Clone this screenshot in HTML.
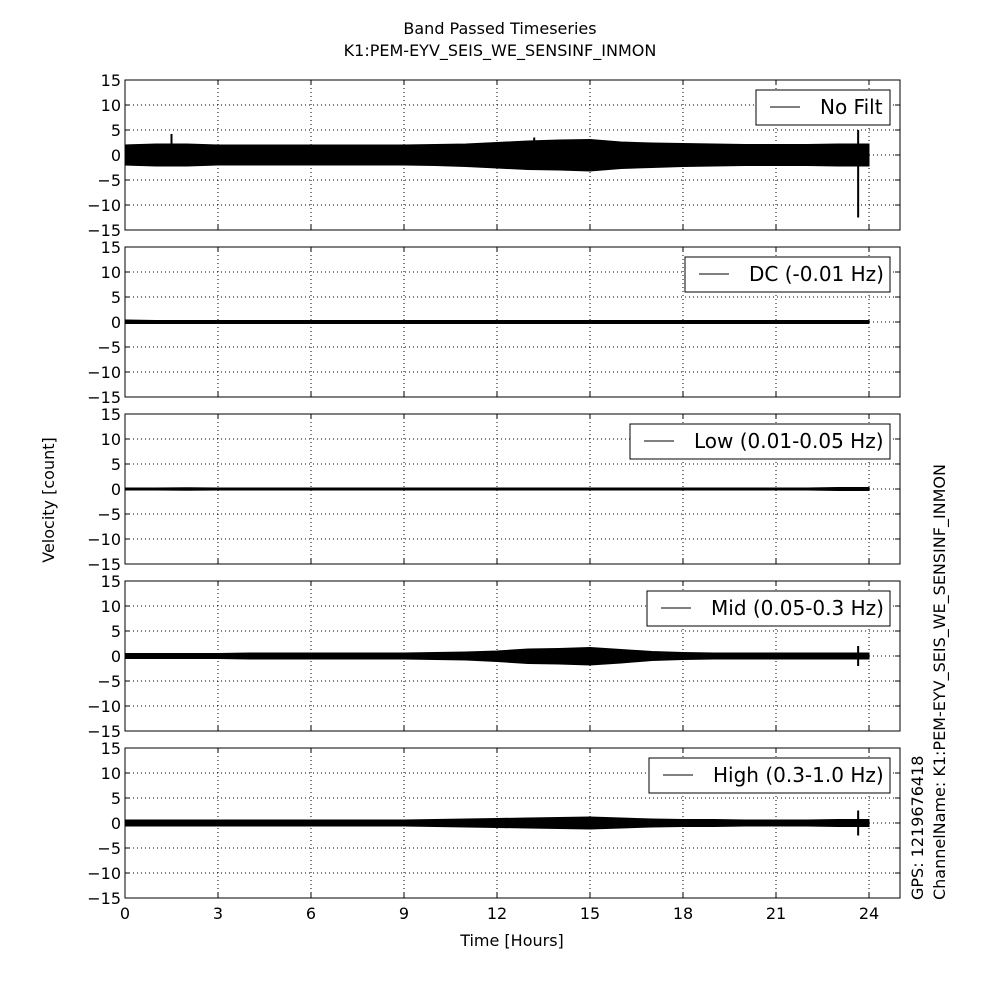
<!DOCTYPE html>
<html><head><meta charset="utf-8"><style>
body{margin:0;background:#fff}
svg{font-family:"DejaVu Sans","Liberation Sans",sans-serif}
</style></head><body>
<svg id="c" width="1000" height="1000" xmlns="http://www.w3.org/2000/svg">
<rect width="1000" height="1000" fill="#fff"/>
<text x="500" y="34" font-size="16" text-anchor="middle">Band Passed Timeseries</text>
<text x="500" y="56" font-size="16" text-anchor="middle">K1:PEM-EYV_SEIS_WE_SENSINF_INMON</text>
<text transform="translate(54,500) rotate(-90)" font-size="16" text-anchor="middle">Velocity [count]</text>
<text x="512" y="946" font-size="16" text-anchor="middle">Time [Hours]</text>
<text transform="translate(923,900) rotate(-90)" font-size="16">GPS: 1219676418</text>
<text transform="translate(945,900) rotate(-90)" font-size="16">ChannelName: K1:PEM-EYV_SEIS_WE_SENSINF_INMON</text>
<g id="panels"></g>
</svg>
<script>
const hours=[0,1,2,3,4,5,6,7,8,9,10,11,12,13,14,15,16,17,18,19,20,21,22,23,24];
const xTicks=[0,3,6,9,12,15,18,21,24];
const yTicks=[15,10,5,0,-5,-10,-15];
const labels=["No Filt","DC (-0.01 Hz)","Low (0.01-0.05 Hz)","Mid (0.05-0.3 Hz)","High (0.3-1.0 Hz)"];
const upper1=[2,2.2,2.2,2,2,2,2,2,2,2,2.1,2.2,2.5,2.8,3,3.1,2.6,2.4,2.3,2.2,2.1,2.1,2.1,2.2,2.2];
const lower1=[-2,-2.2,-2.2,-2,-2,-2,-2,-2,-2,-2,-2.1,-2.3,-2.6,-2.9,-3,-3.2,-2.7,-2.5,-2.3,-2.2,-2.1,-2.1,-2.1,-2.2,-2.2];
const upper2=[0.4,0.3,0.3,0.3,0.3,0.3,0.3,0.3,0.3,0.3,0.3,0.3,0.3,0.3,0.3,0.3,0.3,0.3,0.3,0.3,0.3,0.3,0.3,0.3,0.3];
const lower2=[-0.3,-0.3,-0.3,-0.3,-0.3,-0.3,-0.3,-0.3,-0.3,-0.3,-0.3,-0.3,-0.3,-0.3,-0.3,-0.3,-0.3,-0.3,-0.3,-0.3,-0.3,-0.3,-0.3,-0.3,-0.3];
const upper3=[0.2,0.2,0.25,0.2,0.2,0.2,0.2,0.2,0.2,0.2,0.2,0.2,0.2,0.2,0.2,0.2,0.2,0.2,0.2,0.2,0.2,0.2,0.2,0.3,0.3];
const lower3=[-0.2,-0.2,-0.25,-0.2,-0.2,-0.2,-0.2,-0.2,-0.2,-0.2,-0.2,-0.2,-0.2,-0.2,-0.2,-0.2,-0.2,-0.2,-0.2,-0.2,-0.2,-0.2,-0.2,-0.3,-0.3];
const upper4=[0.5,0.5,0.5,0.5,0.6,0.6,0.6,0.6,0.6,0.6,0.7,0.8,1.0,1.4,1.5,1.7,1.3,0.9,0.7,0.6,0.6,0.6,0.6,0.6,0.6];
const lower4=[-0.5,-0.5,-0.5,-0.5,-0.6,-0.6,-0.6,-0.6,-0.6,-0.6,-0.7,-0.8,-1.1,-1.5,-1.6,-1.8,-1.4,-0.9,-0.7,-0.6,-0.6,-0.6,-0.6,-0.6,-0.6];
const upper5=[0.6,0.6,0.6,0.6,0.6,0.6,0.6,0.6,0.6,0.6,0.7,0.8,0.9,1.0,1.1,1.2,1.0,0.8,0.7,0.7,0.6,0.6,0.6,0.7,0.7];
const lower5=[-0.6,-0.6,-0.6,-0.6,-0.6,-0.6,-0.6,-0.6,-0.6,-0.6,-0.7,-0.8,-0.9,-1.0,-1.1,-1.2,-1.0,-0.8,-0.7,-0.7,-0.6,-0.6,-0.6,-0.7,-0.7];
const spikeTimes1=[1.5,13.2,23.65];
const spikeHi1=[4.2,3.5,5];
const spikeLo1=[-2,-2.5,-12.5];
const spikeTimes4=[23.65];
const spikeHi4=[2];
const spikeLo4=[-2];
const spikeTimes5=[23.65];
const spikeHi5=[2.5];
const spikeLo5=[-2.5];
const uppers=[upper1,upper2,upper3,upper4,upper5];
const lowers=[lower1,lower2,lower3,lower4,lower5];
const spikes=[[spikeTimes1,spikeHi1,spikeLo1],null,null,[spikeTimes4,spikeHi4,spikeLo4],[spikeTimes5,spikeHi5,spikeLo5]];
const legendW=[134,205,260,243,241];
const NS="http://www.w3.org/2000/svg";
const X0=125,X1=900,PH=150,tops=[80,247,414,581,748];
const xs=h=>X0+h*(X1-X0)/25;
const g=document.getElementById('panels');
function mk(t,a,p){const e=document.createElementNS(NS,t);for(const k in a)e.setAttribute(k,a[k]);(p||g).appendChild(e);return e;}
tops.forEach((top,i)=>{
  const ys=v=>top+PH/2-v*PH/30;
  const pg=mk('g',{});
  
  
  xTicks.forEach(t=>{const l=mk('line',{x1:xs(t),x2:xs(t),y1:top,y2:top+PH,stroke:'#000','stroke-dasharray':'1,3','stroke-width':1},pg);
    mk('line',{x1:xs(t),x2:xs(t),y1:top+PH,y2:top+PH-5,stroke:'#000'},pg);mk('line',{x1:xs(t),x2:xs(t),y1:top,y2:top+5,stroke:'#000'},pg);});
  yTicks.forEach(v=>{const l=mk('line',{x1:X0,x2:X1,y1:ys(v),y2:ys(v),stroke:'#000','stroke-dasharray':'1,3','stroke-width':1},pg);
    mk('line',{x1:X0,x2:X0+5,y1:ys(v),y2:ys(v),stroke:'#000'},pg);mk('line',{x1:X1,x2:X1-5,y1:ys(v),y2:ys(v),stroke:'#000'},pg);
    const tx=mk('text',{x:X0-4,y:ys(v)+6,'font-size':16,'text-anchor':'end'},pg);tx.textContent=v<0?'\u2212'+(-v):v;
    });
  const up=uppers[i],lo=lowers[i];
  let d='M'+hours.map((h,k)=>xs(h)+','+ys(up[k])).join('L')+'L'+hours.slice().reverse().map((h,k)=>xs(h)+','+ys(lo[lo.length-1-k])).join('L')+'Z';
  const s=mk('path',{d:d,fill:'#000',stroke:'#000','stroke-width':1},pg);
  
  if(spikes[i]){const [st,sh,sl]=spikes[i];st.forEach((t,k)=>{const l=mk('line',{x1:xs(t),x2:xs(t),y1:ys(sh[k]),y2:ys(sl[k]),stroke:'#000','stroke-width':2},pg);});}
  mk('rect',{x:X0,y:top,width:X1-X0,height:PH,fill:'none',stroke:'#000','stroke-width':1},pg);
  const lg=mk('g',{},pg);
  const lx=890-legendW[i];
  mk('rect',{x:lx,y:top+10,width:legendW[i],height:35,fill:'#fff',stroke:'#000'},lg);
  mk('line',{x1:lx+14,x2:lx+44,y1:top+27,y2:top+27,stroke:'#000'},lg);
  const lt=mk('text',{x:lx+64,y:top+34,'font-size':20},lg);lt.textContent=labels[i];
});
xTicks.forEach(t=>{const tx=mk('text',{x:xs(t),y:919,'font-size':16,'text-anchor':'middle'});tx.textContent=t;
  });
</script>
</body></html>
